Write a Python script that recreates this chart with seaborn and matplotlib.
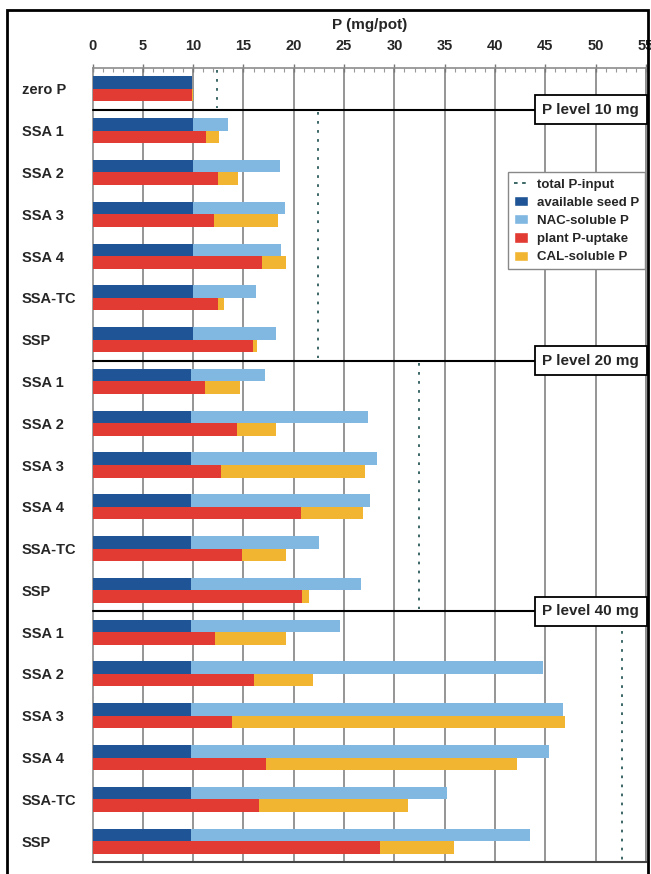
import numpy as np
import pandas as pd
import matplotlib
matplotlib.use("Agg")
import matplotlib.pyplot as plt
import seaborn as sns
from matplotlib.lines import Line2D
from matplotlib.patches import Patch, Rectangle

# Data (mg P per pot)
row_labels = ["zero P",
              "SSA 1", "SSA 2", "SSA 3", "SSA 4", "SSA-TC", "SSP",
              "SSA 1", "SSA 2", "SSA 3", "SSA 4", "SSA-TC", "SSP",
              "SSA 1", "SSA 2", "SSA 3", "SSA 4", "SSA-TC", "SSP"]
seed_p = [9.9,
          10.0, 10.0, 10.0, 10.0, 10.0, 10.0,
          9.8, 9.8, 9.8, 9.8, 9.8, 9.8,
          9.8, 9.8, 9.8, 9.8, 9.8, 9.8]
nac_p = [9.9,
         13.5, 18.6, 19.1, 18.7, 16.2, 18.2,
         17.1, 27.4, 28.3, 27.6, 22.5, 26.7,
         24.6, 44.8, 46.8, 45.4, 35.2, 43.5]
uptake_p = [9.9,
            11.3, 12.5, 12.1, 16.8, 12.5, 15.9,
            11.2, 14.4, 12.8, 20.7, 14.9, 20.8,
            12.2, 16.0, 13.9, 17.2, 16.5, 28.6]
cal_p = [10.0,
         12.6, 14.5, 18.4, 19.2, 13.1, 16.3,
         14.7, 18.2, 27.1, 26.9, 19.2, 21.5,
         19.2, 21.9, 47.0, 42.2, 31.4, 35.9]
total_input = [12.4, 22.4, 32.4, 52.6]
section_rows = [(0, 0), (1, 6), (7, 12), (13, 18)]
level_labels = ["P level 10 mg", "P level 20 mg", "P level 40 mg"]

c_seed = "#1f5596"
c_nac = "#80b8e2"
c_up = "#e23b33"
c_cal = "#f2b531"

row_ids = [f"r{i}" for i in range(len(row_labels))]
outer = pd.DataFrame({"row": row_ids * 2,
                      "slot": ["top"] * len(row_ids) + ["bottom"] * len(row_ids),
                      "value": nac_p + cal_p})
inner = pd.DataFrame({"row": row_ids * 2,
                      "slot": ["top"] * len(row_ids) + ["bottom"] * len(row_ids),
                      "value": seed_p + uptake_p})

sns.set_style("white")
plt.rcParams["font.family"] = ["Liberation Sans", "DejaVu Sans"]

fig = plt.figure(figsize=(6.51, 8.74), dpi=100)
ax = fig.add_axes([92.5 / 651, 1 - 862 / 874, (646 - 92.5) / 651, (862 - 68) / 874])

# grid first
for x in range(5, 56, 5):
    ax.axvline(x, color="#8c8c8c", lw=1.3, zorder=0)

sns.barplot(data=outer, y="row", x="value", hue="slot", order=row_ids,
            hue_order=["top", "bottom"], palette={"top": c_nac, "bottom": c_cal},
            width=0.6, gap=0, dodge=True, legend=False, orient="h",
            linewidth=0, saturation=1, ax=ax, zorder=2)
sns.barplot(data=inner, y="row", x="value", hue="slot", order=row_ids,
            hue_order=["top", "bottom"], palette={"top": c_seed, "bottom": c_up},
            width=0.6, gap=0, dodge=True, legend=False, orient="h",
            linewidth=0, saturation=1, ax=ax, zorder=3)

ax.set_xlim(0, 55)
ax.set_ylim(len(row_ids) - 0.5, -0.5)

# total P input dotted lines per section
for (r0, r1), tot in zip(section_rows, total_input):
    ax.plot([tot, tot], [r0 - 0.45, r1 + 0.45], color="#2d5c5c", lw=1.3,
            linestyle=(0, (1.5, 3.5)), zorder=4)

# section separators and labels
for (r0, r1), lab in zip(section_rows[1:], level_labels):
    ysep = r0 - 0.5
    ax.plot([0, 44], [ysep, ysep], color="black", lw=1.5, zorder=5, clip_on=False)
    ax.text(54.3, ysep, lab, ha="right", va="center", fontsize=11,
            fontweight="bold", zorder=6,
            bbox=dict(boxstyle="square,pad=0.5", facecolor="white",
                      edgecolor="black", lw=1.3))

# axes styling
ax.xaxis.tick_top()
ax.xaxis.set_label_position("top")
ax.set_xticks(range(0, 56, 5))
ax.set_xticks(range(0, 56, 1), minor=True)
ax.tick_params(axis="x", which="major", length=6, width=1, color="#777777",
               direction="inout", pad=8, labelsize=10.5)
ax.tick_params(axis="x", which="minor", length=3, width=0.8, color="#999999",
               direction="in")
for t in ax.get_xticklabels():
    t.set_fontweight("bold")
ax.set_xlabel("P (mg/pot)", fontsize=11, fontweight="bold", labelpad=7)

ax.set_yticks(range(len(row_ids)))
ax.set_yticklabels(row_labels, fontsize=10.5, fontweight="bold")
ax.set_yticks(np.arange(-0.5, len(row_ids), 1), minor=True)
ax.tick_params(axis="y", which="major", length=0, pad=51)
ax.tick_params(axis="y", which="minor", length=3, color="#777777", direction="out")
for t in ax.get_yticklabels():
    t.set_horizontalalignment("left")
ax.set_ylabel("")

for side in ["top", "left"]:
    ax.spines[side].set_color("#8c8c8c")
    ax.spines[side].set_linewidth(1.2)
ax.spines["bottom"].set_color("#444444")
ax.spines["bottom"].set_linewidth(1.5)
ax.spines["right"].set_color("#8c8c8c")
ax.spines["right"].set_linewidth(1.3)

# legend
handles = [Line2D([0], [0], color="#2d5c5c", lw=1.3, linestyle=(0, (2, 2.5))),
           Patch(facecolor=c_seed), Patch(facecolor=c_nac),
           Patch(facecolor=c_up), Patch(facecolor=c_cal)]
names = ["total P-input", "available seed P", "NAC-soluble P",
         "plant P-uptake", "CAL-soluble P"]
leg = fig.legend(handles, names, loc="upper right",
                 bbox_to_anchor=(645 / 651, 1 - 172 / 874),
                 prop={"size": 9.5, "weight": "bold"}, frameon=True,
                 fancybox=False, edgecolor="#888888", framealpha=1,
                 handlelength=1.0, handleheight=0.8, handletextpad=0.7,
                 labelspacing=0.42, borderpad=0.45, borderaxespad=0)
leg.get_frame().set_linewidth(1.0)

# figure frame
fig.patches.append(Rectangle((7 / 651, -0.01), (648 - 7) / 651, 1 - 10 / 874 + 0.01,
                             transform=fig.transFigure, fill=False,
                             edgecolor="black", lw=2))

fig.savefig("out.png", dpi=100)
